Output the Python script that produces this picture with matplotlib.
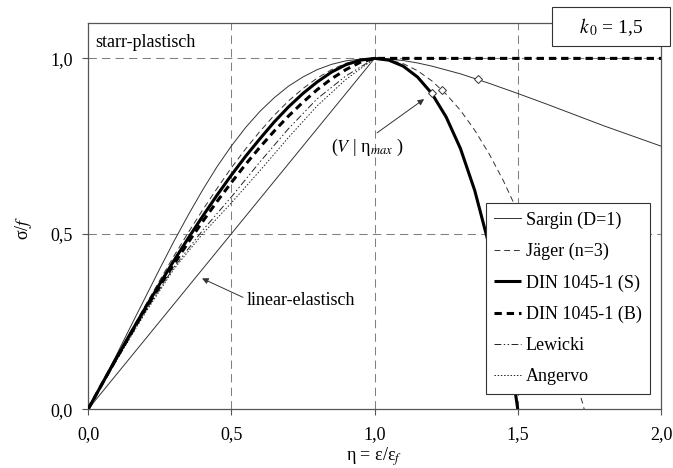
import matplotlib
matplotlib.use("Agg")
import matplotlib.pyplot as plt
from matplotlib.patches import Rectangle

plt.rcParams['font.family'] = ['Liberation Serif', 'DejaVu Serif']
plt.rcParams['mathtext.fontset'] = 'stix'
plt.rcParams['font.size'] = 13

# ---- data ----
xticks = [0.0, 0.5, 1.0, 1.5, 2.0]
xtick_labels = ["0,0", "0,5", "1,0", "1,5", "2,0"]
yticks = [0.0, 0.5, 1.0]
ytick_labels = ["0,0", "0,5", "1,0"]

sargin_eta = [0.0, 0.05, 0.1, 0.15, 0.2, 0.25, 0.3, 0.35, 0.4, 0.45, 0.5, 0.55, 0.6, 0.65,
              0.7, 0.75, 0.8, 0.85, 0.9, 0.95, 1.0, 1.05, 1.1, 1.15, 1.2, 1.3, 1.4, 1.5,
              1.6, 1.7, 1.8, 1.9, 2.0]
sargin_sig = [0.0, 0.077, 0.156, 0.238, 0.319, 0.400, 0.479, 0.554, 0.625, 0.691, 0.750,
              0.803, 0.849, 0.888, 0.921, 0.947, 0.968, 0.983, 0.993, 0.998, 1.000, 0.998,
              0.994, 0.987, 0.978, 0.956, 0.929, 0.900, 0.870, 0.839, 0.808, 0.779, 0.750]

jaeger_eta = [0.0, 0.05, 0.1, 0.15, 0.2, 0.25, 0.3, 0.35, 0.4, 0.45, 0.5, 0.55, 0.6, 0.65,
              0.7, 0.75, 0.8, 0.85, 0.9, 0.95, 1.0, 1.05, 1.1, 1.15, 1.2, 1.25, 1.3, 1.35,
              1.4, 1.45, 1.5, 1.55, 1.6, 1.65, 1.7, 1.732]
jaeger_sig = [0.0, 0.075, 0.150, 0.223, 0.296, 0.367, 0.437, 0.504, 0.568, 0.629, 0.688,
              0.742, 0.792, 0.838, 0.879, 0.914, 0.944, 0.968, 0.986, 0.996, 1.000, 0.996,
              0.985, 0.965, 0.936, 0.898, 0.852, 0.795, 0.728, 0.651, 0.563, 0.463, 0.352,
              0.229, 0.094, 0.0]

din_s_eta = [0.0, 0.05, 0.1, 0.15, 0.2, 0.25, 0.3, 0.35, 0.4, 0.45, 0.5, 0.55, 0.6, 0.65,
             0.7, 0.75, 0.8, 0.85, 0.9, 0.95, 1.0, 1.05, 1.1, 1.15, 1.2, 1.25, 1.3, 1.35,
             1.4, 1.45, 1.475, 1.5]
din_s_sig = [0.0, 0.074, 0.147, 0.219, 0.289, 0.357, 0.424, 0.488, 0.550, 0.610, 0.667,
             0.721, 0.771, 0.819, 0.862, 0.900, 0.933, 0.961, 0.982, 0.995, 1.000, 0.995,
             0.978, 0.947, 0.900, 0.833, 0.743, 0.623, 0.467, 0.264, 0.141, 0.0]

din_b_eta = [0.0, 0.05, 0.1, 0.15, 0.2, 0.25, 0.3, 0.35, 0.4, 0.45, 0.5, 0.55, 0.6, 0.65,
             0.7, 0.75, 0.8, 0.85, 0.9, 0.95, 1.0, 2.0]
din_b_sig = [0.0, 0.074, 0.146, 0.216, 0.285, 0.351, 0.414, 0.476, 0.535, 0.592, 0.646,
             0.698, 0.747, 0.793, 0.836, 0.875, 0.911, 0.942, 0.968, 0.989, 1.0, 1.0]

lewicki_eta = [0.0, 0.1, 0.2, 0.3, 0.4, 0.5, 0.6, 0.7, 0.8, 0.9, 1.0]
lewicki_sig = [0.0, 0.143, 0.280, 0.405, 0.510, 0.605, 0.705, 0.800, 0.885, 0.950, 1.0]

angervo_eta = [0.0, 0.1, 0.2, 0.3, 0.4, 0.5, 0.6, 0.7, 0.8, 0.9, 1.0]
angervo_sig = [0.0, 0.140, 0.275, 0.400, 0.500, 0.588, 0.680, 0.775, 0.865, 0.940, 1.0]

linear_eta = [0.0, 1.0]
linear_sig = [0.0, 1.0]

vmax_eta = [1.200, 1.234, 1.362]
vmax_sig = [0.900, 0.911, 0.940]

# ---- figure ----
fig = plt.figure(figsize=(6.73, 4.68), dpi=100)
ax = fig.add_axes([0.1308, 0.1254, 0.8514, 0.8248])
ax.set_xlim(0, 2.0)
ax.set_ylim(0, 1.1)

grid_kw = dict(color='#808080', lw=0.75, linestyle=(0, (8, 5)), zorder=1)
for gx in [0.5, 1.0, 1.5]:
    ax.axvline(gx, **grid_kw)
for gy in [0.5, 1.0]:
    ax.axhline(gy, **grid_kw)

ax.plot(linear_eta, linear_sig, color='#333333', lw=0.7, zorder=2)
ax.plot(sargin_eta, sargin_sig, color='#333333', lw=0.7, zorder=3, label='Sargin (D=1)')
ax.plot(jaeger_eta, jaeger_sig, color='#333333', lw=0.7, linestyle=(0, (6, 4)), zorder=3,
        label='Jäger (n=3)')
ax.plot(din_s_eta, din_s_sig, color='black', lw=2.2, zorder=4, label='DIN 1045-1 (S)',
        solid_capstyle='butt')
ax.plot(din_b_eta, din_b_sig, color='black', lw=2.2, linestyle=(0, (2.4, 1.6)), zorder=4,
        label='DIN 1045-1 (B)', dash_capstyle='butt')
ax.plot(lewicki_eta, lewicki_sig, color='#222222', lw=0.7,
        linestyle=(0, (7, 2.5, 1.5, 2.5, 1.5, 2.5)), zorder=3, label='Lewicki')
ax.plot(angervo_eta, angervo_sig, color='#222222', lw=0.7, linestyle=(0, (1.5, 1.8)),
        zorder=3, label='Angervo')
ax.plot(vmax_eta, vmax_sig, linestyle='none', marker='D', markersize=4.5,
        markerfacecolor='white', markeredgecolor='#333333', markeredgewidth=0.7, zorder=5)

# annotations
ax.text(0.025, 1.046, 'starr-plastisch', ha='left', va='center', fontsize=13)
ax.text(0.555, 0.31, 'linear-elastisch', ha='left', va='center', fontsize=13)
ax.annotate('', xy=(0.398, 0.373), xytext=(0.541, 0.319),
            arrowprops=dict(arrowstyle='-|>', color='#333333', lw=0.7, mutation_scale=9,
                            shrinkA=0, shrinkB=0))
ax.text(0.975, 0.745, '($V$ | η$_{max}$ )', ha='center', va='center', fontsize=13)
ax.annotate('', xy=(1.173, 0.884), xytext=(1.009, 0.788),
            arrowprops=dict(arrowstyle='-|>', color='#333333', lw=0.7, mutation_scale=9,
                            shrinkA=0, shrinkB=0))

# axes styling
for sp in ax.spines.values():
    sp.set_color('#555555')
    sp.set_linewidth(0.9)
ax.set_xticks(xticks)
ax.set_xticklabels(xtick_labels)
ax.set_yticks(yticks)
ax.set_yticklabels(ytick_labels)
ax.tick_params(axis='both', direction='out', length=4, width=0.8, color='#555555',
               labelsize=13)
ax.tick_params(axis='x', pad=8)
ax.tick_params(axis='y', pad=7)

ax.set_xlabel('η = ε/ε$_{f}$', fontsize=13)
ax.xaxis.set_label_coords(0.5, -0.093)
ax.set_ylabel('σ/$f$', fontsize=13)
ax.yaxis.set_label_coords(-0.094, 0.47)

leg = ax.legend(loc='upper left', bbox_to_anchor=(0.694, 0.535), borderaxespad=0,
                frameon=True, fancybox=False, framealpha=1, edgecolor='#333333',
                fontsize=13, handlelength=1.5, handletextpad=0.25, labelspacing=0.78,
                borderpad=0.48)
leg.get_frame().set_linewidth(0.8)
leg.set_zorder(10)

# k0 box
rect = Rectangle((552 / 673, 1 - 46 / 468), 118 / 673, 39 / 468, transform=fig.transFigure,
                 facecolor='white', edgecolor='#333333', lw=0.8, zorder=20)
fig.add_artist(rect)
fig.text(611 / 673, 1 - 27 / 468, '$k_{\\,0}$ = 1,5', ha='center', va='center', fontsize=14,
         zorder=21)

fig.savefig('out.png', dpi=100)
